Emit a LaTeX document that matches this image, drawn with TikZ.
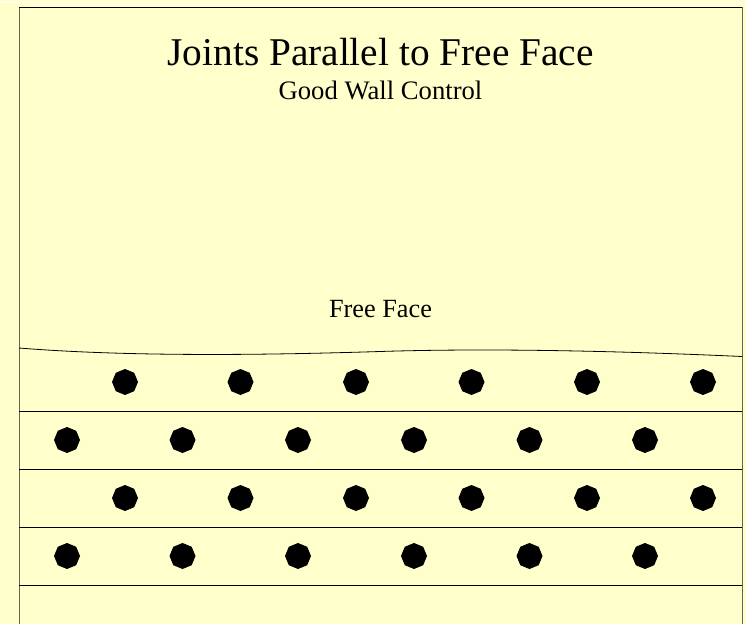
\documentclass[tikz,border=0pt]{standalone}
\usepackage{fontspec}
\setmainfont{Liberation Serif}
\definecolor{paper}{HTML}{FFFFCC}
\usetikzlibrary{shapes.geometric}
\tikzset{
  px/.style={x=0.75pt,y=-0.75pt},
  edge/.style={draw=black!60!paper,line width=0.75pt},
  joint/.style={draw=black,line width=0.6pt},
  hole/.style={circle,fill=black,draw=black,line width=0.3pt,minimum size=23*0.75pt,inner sep=0pt},
  spike/.style={regular polygon,regular polygon sides=8,shape border rotate=22.5,fill=black,minimum size=26*0.75pt,inner sep=0pt},
  label/.style={inner sep=0pt,text=black,anchor=base}
}
\begin{document}
\begin{tikzpicture}[px]
\useasboundingbox (0,0) rectangle (746,624);
\fill[paper] (0,0) rectangle (746,624);
\draw[white,line width=0.6pt] (0,2.5) -- (746,2.5);
\draw[edge] (19,624) -- (19,7.5);
\draw[joint] (19,7.5) -- (742,7.5);
\draw[edge] (742,7.5) -- (742,624);
\node[label,font=\fontsize{29.5pt}{32pt}\selectfont] (title) at (380.5,65.5) {Joints Parallel to Free Face};
\node[label,font=\fontsize{20pt}{24pt}\selectfont] (sub) at (380.5,100) {Good Wall Control};
\node[label,font=\fontsize{19.7pt}{24pt}\selectfont] (ff) at (380.5,317) {Free Face};
\draw[joint] (19,348) .. controls (130,357) and (270,355) .. (380,351.5) .. controls (490,348) and (620,351) .. (742,356.5);
\foreach \y in {411.5,469.5,527.5,585.5} \draw[joint] (19,\y) -- (742,\y);
\foreach \x [count=\i] in {125,240.5,356,471.5,587,703} {
  \node[spike] (as\i) at (\x,382) {}; \node[hole] (a\i) at (\x,382) {};
  \node[spike] (cs\i) at (\x,498) {}; \node[hole] (c\i) at (\x,498) {};
}
\foreach \x [count=\i] in {67,182.5,298,414,529.5,645} {
  \node[spike] (bs\i) at (\x,440) {}; \node[hole] (b\i) at (\x,440) {};
  \node[spike] (ds\i) at (\x,556) {}; \node[hole] (d\i) at (\x,556) {};
}
\end{tikzpicture}
\end{document}
